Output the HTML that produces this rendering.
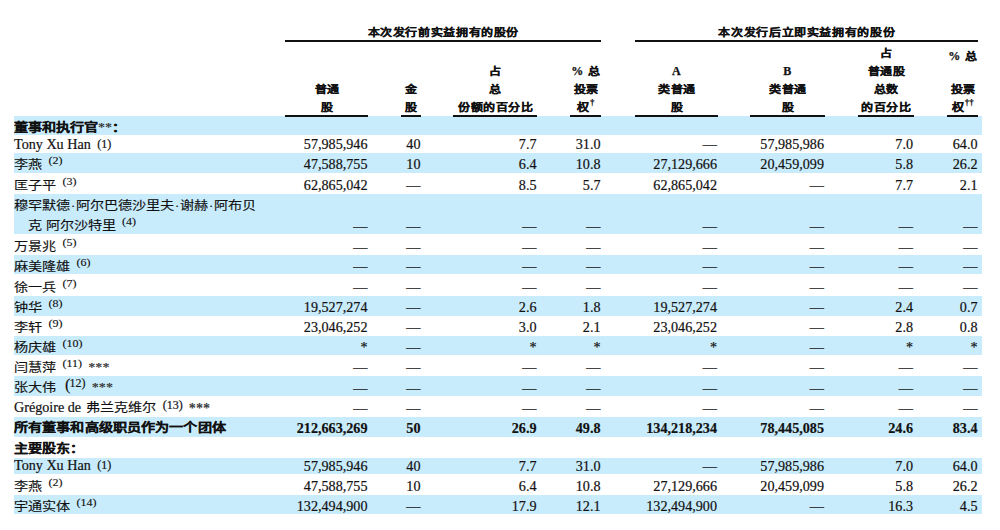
<!DOCTYPE html><html lang="zh-CN"><head><meta charset="utf-8"><style>
*{margin:0;padding:0;box-sizing:border-box}
html,body{width:1000px;height:530px;overflow:hidden;background:#fff}
body{position:relative;font-family:"Liberation Serif",serif;font-size:14.15px;color:#111}
.band{position:absolute;left:14px;width:968px;background:#c9ecfc}
.hl{position:absolute;height:2px;background:#111}
.gh{position:absolute;font-weight:bold;font-size:12px;letter-spacing:0.62px;text-indent:0.62px;line-height:14px;height:14px;text-align:center;white-space:nowrap;-webkit-text-stroke:0.25px #111;transform:scaleY(0.88)}
.ch{position:absolute;font-weight:bold;font-size:12px;letter-spacing:0.5px;text-indent:0.5px;line-height:18px;height:18px;text-align:center;white-space:nowrap;-webkit-text-stroke:0.25px #111}
.hq{display:inline-block;transform:scaleY(0.88)}
.t{position:absolute;white-space:nowrap;line-height:20px;height:20px}
.lab{left:14px;-webkit-text-stroke:0.2px #111}
.sq{transform:scaleY(0.87);transform-origin:0 10px;-webkit-text-stroke:0.15px #111}
.sq .fn,.sq .fn2,.sq .bp{-webkit-text-stroke:0.15px #111}
.ast{-webkit-text-stroke:0 !important}
.sqi{display:inline-block;transform:scaleY(0.87);transform-origin:0 10px;-webkit-text-stroke:0.15px #111;position:relative;top:1px;margin-left:1.5px}
.v{text-align:right;-webkit-text-stroke:0.2px #111}
.fn{position:relative;font-size:12px;margin-left:6.5px}
.fn2{position:relative;font-size:12px}
.sq .fn{display:inline-block;transform:scaleY(1.06)}
.sq .fn2{display:inline-block;transform:scaleY(1.22);transform-origin:0 0}
.ast{color:#3a3a3a;font-weight:bold}
.ast2{margin-left:6.2px}
.sq .ast2{position:relative;top:-1.5px}
.ind{padding-left:14px}
.bp{font-size:16.5px;margin-left:5.5px;display:inline-block;transform:scaleY(1.149);position:relative;top:-3px}
.dot{font-style:normal;margin:0 0.65px}
.dg{font-size:8px;position:relative;top:-6px;margin-left:0.5px}
</style></head><body>
<div class="band" style="top:116.3px;height:19.2px"></div>
<div class="band" style="top:152.9px;height:19.7px"></div>
<div class="band" style="top:193.9px;height:40.1px"></div>
<div class="band" style="top:255.4px;height:19.1px"></div>
<div class="band" style="top:295.9px;height:19.7px"></div>
<div class="band" style="top:336.1px;height:19.2px"></div>
<div class="band" style="top:375.8px;height:20.4px"></div>
<div class="band" style="top:416.8px;height:19.8px"></div>
<div class="band" style="top:457.5px;height:16.6px"></div>
<div class="band" style="top:495.1px;height:19.1px"></div>
<div class="gh" style="left:285px;width:316px;top:25.3px">本次发行前实益拥有的股份</div>
<div class="hl" style="left:285px;width:316px;top:40.3px"></div>
<div class="gh" style="left:635px;width:343px;top:25.3px">本次发行后立即实益拥有的股份</div>
<div class="hl" style="left:635px;width:343px;top:40.3px"></div>
<div class="ch" style="left:285px;width:83px;top:80px"><span class="hq">普通</span></div>
<div class="ch" style="left:285px;width:83px;top:98px"><span class="hq">股</span></div>
<div class="hl" style="left:285px;width:83px;top:115px"></div>
<div class="ch" style="left:401px;width:20px;top:80px"><span class="hq">金</span></div>
<div class="ch" style="left:401px;width:20px;top:98px"><span class="hq">股</span></div>
<div class="hl" style="left:401px;width:20px;top:115px"></div>
<div class="ch" style="left:453px;width:84px;top:61.5px"><span class="hq">占</span></div>
<div class="ch" style="left:453px;width:84px;top:79.5px"><span class="hq">总</span></div>
<div class="ch" style="left:453px;width:84px;top:98px"><span class="hq">份额的百分比</span></div>
<div class="hl" style="left:453px;width:84px;top:115px"></div>
<div class="ch" style="left:570px;width:31px;top:61.5px">% <span class="hq">总</span></div>
<div class="ch" style="left:570px;width:31px;top:79.7px"><span class="hq">投票</span></div>
<div class="ch" style="left:570px;width:31px;top:98px"><span class="hq">权</span><span class="dg">†</span></div>
<div class="hl" style="left:570px;width:31px;top:115px"></div>
<div class="ch" style="left:635px;width:82.5px;top:62.1px">A</div>
<div class="ch" style="left:635px;width:82.5px;top:79.7px"><span class="hq">类普通</span></div>
<div class="ch" style="left:635px;width:82.5px;top:98px"><span class="hq">股</span></div>
<div class="hl" style="left:635px;width:82.5px;top:115px"></div>
<div class="ch" style="left:750px;width:74.5px;top:62.1px">B</div>
<div class="ch" style="left:750px;width:74.5px;top:79.7px"><span class="hq">类普通</span></div>
<div class="ch" style="left:750px;width:74.5px;top:98px"><span class="hq">股</span></div>
<div class="hl" style="left:750px;width:74.5px;top:115px"></div>
<div class="ch" style="left:858px;width:55.5px;top:43.5px"><span class="hq">占</span></div>
<div class="ch" style="left:858px;width:55.5px;top:61.8px"><span class="hq">普通股</span></div>
<div class="ch" style="left:858px;width:55.5px;top:79.8px"><span class="hq">总数</span></div>
<div class="ch" style="left:858px;width:55.5px;top:97.5px"><span class="hq">的百分比</span></div>
<div class="hl" style="left:858px;width:55.5px;top:115px"></div>
<div class="ch" style="left:947px;width:31px;top:47px">% <span class="hq">总</span></div>
<div class="ch" style="left:947px;width:31px;top:80px"><span class="hq">投票</span></div>
<div class="ch" style="left:947px;width:31px;top:98px"><span class="hq">权</span><span class="dg">††</span></div>
<div class="hl" style="left:947px;width:31px;top:115px"></div>
<div class="t lab sq" style="top:117.82px"><b>董事和执行官<span class="ast" style="position:relative;top:-1.3px">**</span>：</b></div>
<div class="t lab" style="top:133.82px">Tony Xu Han<span class="fn" style="top:-1.1px">(1)</span></div>
<div class="t v" style="left:245px;width:122.5px;top:134.22px">57,985,946</div>
<div class="t v" style="left:361px;width:59.5px;top:134.22px">40</div>
<div class="t v" style="left:413px;width:123.5px;top:134.22px">7.7</div>
<div class="t v" style="left:530px;width:70.5px;top:134.22px">31.0</div>
<div class="t v" style="left:595px;width:122.0px;top:134.22px">—</div>
<div class="t v" style="left:710px;width:114.0px;top:134.22px">57,985,986</div>
<div class="t v" style="left:818px;width:95.0px;top:134.22px">7.0</div>
<div class="t v" style="left:907px;width:70.5px;top:134.22px">64.0</div>
<div class="t lab sq" style="top:154.82px">李燕<span class="fn" style="top:-5.8px">(2)</span></div>
<div class="t v" style="left:245px;width:122.5px;top:154.22px">47,588,755</div>
<div class="t v" style="left:361px;width:59.5px;top:154.22px">10</div>
<div class="t v" style="left:413px;width:123.5px;top:154.22px">6.4</div>
<div class="t v" style="left:530px;width:70.5px;top:154.22px">10.8</div>
<div class="t v" style="left:595px;width:122.0px;top:154.22px">27,129,666</div>
<div class="t v" style="left:710px;width:114.0px;top:154.22px">20,459,099</div>
<div class="t v" style="left:818px;width:95.0px;top:154.22px">5.8</div>
<div class="t v" style="left:907px;width:70.5px;top:154.22px">26.2</div>
<div class="t lab sq" style="top:175.62px">匡子平<span class="fn" style="top:-5.8px">(3)</span></div>
<div class="t v" style="left:245px;width:122.5px;top:175.02px">62,865,042</div>
<div class="t v" style="left:361px;width:59.5px;top:175.02px">—</div>
<div class="t v" style="left:413px;width:123.5px;top:175.02px">8.5</div>
<div class="t v" style="left:530px;width:70.5px;top:175.02px">5.7</div>
<div class="t v" style="left:595px;width:122.0px;top:175.02px">62,865,042</div>
<div class="t v" style="left:710px;width:114.0px;top:175.02px">—</div>
<div class="t v" style="left:818px;width:95.0px;top:175.02px">7.7</div>
<div class="t v" style="left:907px;width:70.5px;top:175.02px">2.1</div>
<div class="t lab sq" style="top:195.62px">穆罕默德<i class="dot">·</i>阿尔巴德沙里夫<i class="dot">·</i>谢赫<i class="dot">·</i>阿布贝</div>
<div class="t lab sq" style="top:216.12px"><span class="ind">克 阿尔沙特里<span class="fn" style="top:-5.8px">(4)</span></span></div>
<div class="t v" style="left:245px;width:122.5px;top:215.52px">—</div>
<div class="t v" style="left:361px;width:59.5px;top:215.52px">—</div>
<div class="t v" style="left:413px;width:123.5px;top:215.52px">—</div>
<div class="t v" style="left:530px;width:70.5px;top:215.52px">—</div>
<div class="t v" style="left:595px;width:122.0px;top:215.52px">—</div>
<div class="t v" style="left:710px;width:114.0px;top:215.52px">—</div>
<div class="t v" style="left:818px;width:95.0px;top:215.52px">—</div>
<div class="t v" style="left:907px;width:70.5px;top:215.52px">—</div>
<div class="t lab sq" style="top:237.12px">万景兆<span class="fn" style="top:-5.8px">(5)</span></div>
<div class="t v" style="left:245px;width:122.5px;top:236.52px">—</div>
<div class="t v" style="left:361px;width:59.5px;top:236.52px">—</div>
<div class="t v" style="left:413px;width:123.5px;top:236.52px">—</div>
<div class="t v" style="left:530px;width:70.5px;top:236.52px">—</div>
<div class="t v" style="left:595px;width:122.0px;top:236.52px">—</div>
<div class="t v" style="left:710px;width:114.0px;top:236.52px">—</div>
<div class="t v" style="left:818px;width:95.0px;top:236.52px">—</div>
<div class="t v" style="left:907px;width:70.5px;top:236.52px">—</div>
<div class="t lab sq" style="top:256.82px">麻美隆雄<span class="fn" style="top:-5.8px">(6)</span></div>
<div class="t v" style="left:245px;width:122.5px;top:256.22px">—</div>
<div class="t v" style="left:361px;width:59.5px;top:256.22px">—</div>
<div class="t v" style="left:413px;width:123.5px;top:256.22px">—</div>
<div class="t v" style="left:530px;width:70.5px;top:256.22px">—</div>
<div class="t v" style="left:595px;width:122.0px;top:256.22px">—</div>
<div class="t v" style="left:710px;width:114.0px;top:256.22px">—</div>
<div class="t v" style="left:818px;width:95.0px;top:256.22px">—</div>
<div class="t v" style="left:907px;width:70.5px;top:256.22px">—</div>
<div class="t lab sq" style="top:277.82px">徐一兵<span class="fn" style="top:-5.8px">(7)</span></div>
<div class="t v" style="left:245px;width:122.5px;top:277.22px">—</div>
<div class="t v" style="left:361px;width:59.5px;top:277.22px">—</div>
<div class="t v" style="left:413px;width:123.5px;top:277.22px">—</div>
<div class="t v" style="left:530px;width:70.5px;top:277.22px">—</div>
<div class="t v" style="left:595px;width:122.0px;top:277.22px">—</div>
<div class="t v" style="left:710px;width:114.0px;top:277.22px">—</div>
<div class="t v" style="left:818px;width:95.0px;top:277.22px">—</div>
<div class="t v" style="left:907px;width:70.5px;top:277.22px">—</div>
<div class="t lab sq" style="top:297.62px">钟华<span class="fn" style="top:-5.8px">(8)</span></div>
<div class="t v" style="left:245px;width:122.5px;top:297.02px">19,527,274</div>
<div class="t v" style="left:361px;width:59.5px;top:297.02px">—</div>
<div class="t v" style="left:413px;width:123.5px;top:297.02px">2.6</div>
<div class="t v" style="left:530px;width:70.5px;top:297.02px">1.8</div>
<div class="t v" style="left:595px;width:122.0px;top:297.02px">19,527,274</div>
<div class="t v" style="left:710px;width:114.0px;top:297.02px">—</div>
<div class="t v" style="left:818px;width:95.0px;top:297.02px">2.4</div>
<div class="t v" style="left:907px;width:70.5px;top:297.02px">0.7</div>
<div class="t lab sq" style="top:318.02px">李轩<span class="fn" style="top:-5.8px">(9)</span></div>
<div class="t v" style="left:245px;width:122.5px;top:317.42px">23,046,252</div>
<div class="t v" style="left:361px;width:59.5px;top:317.42px">—</div>
<div class="t v" style="left:413px;width:123.5px;top:317.42px">3.0</div>
<div class="t v" style="left:530px;width:70.5px;top:317.42px">2.1</div>
<div class="t v" style="left:595px;width:122.0px;top:317.42px">23,046,252</div>
<div class="t v" style="left:710px;width:114.0px;top:317.42px">—</div>
<div class="t v" style="left:818px;width:95.0px;top:317.42px">2.8</div>
<div class="t v" style="left:907px;width:70.5px;top:317.42px">0.8</div>
<div class="t lab sq" style="top:337.72px">杨庆雄<span class="fn" style="top:-5.8px">(10)</span></div>
<div class="t v" style="left:245px;width:122.5px;top:337.12px">*</div>
<div class="t v" style="left:361px;width:59.5px;top:337.12px">—</div>
<div class="t v" style="left:413px;width:123.5px;top:337.12px">*</div>
<div class="t v" style="left:530px;width:70.5px;top:337.12px">*</div>
<div class="t v" style="left:595px;width:122.0px;top:337.12px">*</div>
<div class="t v" style="left:710px;width:114.0px;top:337.12px">—</div>
<div class="t v" style="left:818px;width:95.0px;top:337.12px">*</div>
<div class="t v" style="left:907px;width:70.5px;top:337.12px">*</div>
<div class="t lab sq" style="top:358.02px">闫慧萍<span class="fn" style="top:-5.8px">(11)</span><span class="ast ast2">***</span></div>
<div class="t v" style="left:245px;width:122.5px;top:357.42px">—</div>
<div class="t v" style="left:361px;width:59.5px;top:357.42px">—</div>
<div class="t v" style="left:413px;width:123.5px;top:357.42px">—</div>
<div class="t v" style="left:530px;width:70.5px;top:357.42px">—</div>
<div class="t v" style="left:595px;width:122.0px;top:357.42px">—</div>
<div class="t v" style="left:710px;width:114.0px;top:357.42px">—</div>
<div class="t v" style="left:818px;width:95.0px;top:357.42px">—</div>
<div class="t v" style="left:907px;width:70.5px;top:357.42px">—</div>
<div class="t lab sq" style="top:378.42px">张大伟 <span class="bp">(</span><span class="fn2" style="top:-8.8px;margin-left:-1px">12)</span><span class="ast ast2">***</span></div>
<div class="t v" style="left:245px;width:122.5px;top:377.82px">—</div>
<div class="t v" style="left:361px;width:59.5px;top:377.82px">—</div>
<div class="t v" style="left:413px;width:123.5px;top:377.82px">—</div>
<div class="t v" style="left:530px;width:70.5px;top:377.82px">—</div>
<div class="t v" style="left:595px;width:122.0px;top:377.82px">—</div>
<div class="t v" style="left:710px;width:114.0px;top:377.82px">—</div>
<div class="t v" style="left:818px;width:95.0px;top:377.82px">—</div>
<div class="t v" style="left:907px;width:70.5px;top:377.82px">—</div>
<div class="t lab" style="top:397.12px">Grégoire de <span class="sqi">弗兰克维尔</span><span class="fn" style="top:-3.3px">(13)</span><span class="ast ast2" style="position:relative;top:1px">***</span></div>
<div class="t v" style="left:245px;width:122.5px;top:397.62px">—</div>
<div class="t v" style="left:361px;width:59.5px;top:397.62px">—</div>
<div class="t v" style="left:413px;width:123.5px;top:397.62px">—</div>
<div class="t v" style="left:530px;width:70.5px;top:397.62px">—</div>
<div class="t v" style="left:595px;width:122.0px;top:397.62px">—</div>
<div class="t v" style="left:710px;width:114.0px;top:397.62px">—</div>
<div class="t v" style="left:818px;width:95.0px;top:397.62px">—</div>
<div class="t v" style="left:907px;width:70.5px;top:397.62px">—</div>
<div class="t lab sq" style="top:418.22px"><b style="letter-spacing:0.12px">所有董事和高级职员作为一个团体</b></div>
<div class="t v" style="left:245px;width:122.5px;top:418.12px;font-weight:bold">212,663,269</div>
<div class="t v" style="left:361px;width:59.5px;top:418.12px;font-weight:bold">50</div>
<div class="t v" style="left:413px;width:123.5px;top:418.12px;font-weight:bold">26.9</div>
<div class="t v" style="left:530px;width:70.5px;top:418.12px;font-weight:bold">49.8</div>
<div class="t v" style="left:595px;width:122.0px;top:418.12px;font-weight:bold">134,218,234</div>
<div class="t v" style="left:710px;width:114.0px;top:418.12px;font-weight:bold">78,445,085</div>
<div class="t v" style="left:818px;width:95.0px;top:418.12px;font-weight:bold">24.6</div>
<div class="t v" style="left:907px;width:70.5px;top:418.12px;font-weight:bold">83.4</div>
<div class="t lab sq" style="top:438.92px"><b>主要股东：</b></div>
<div class="t lab" style="top:455.12px">Tony Xu Han<span class="fn" style="top:-1.1px">(1)</span></div>
<div class="t v" style="left:245px;width:122.5px;top:455.52px">57,985,946</div>
<div class="t v" style="left:361px;width:59.5px;top:455.52px">40</div>
<div class="t v" style="left:413px;width:123.5px;top:455.52px">7.7</div>
<div class="t v" style="left:530px;width:70.5px;top:455.52px">31.0</div>
<div class="t v" style="left:595px;width:122.0px;top:455.52px">—</div>
<div class="t v" style="left:710px;width:114.0px;top:455.52px">57,985,986</div>
<div class="t v" style="left:818px;width:95.0px;top:455.52px">7.0</div>
<div class="t v" style="left:907px;width:70.5px;top:455.52px">64.0</div>
<div class="t lab sq" style="top:476.82px">李燕<span class="fn" style="top:-5.8px">(2)</span></div>
<div class="t v" style="left:245px;width:122.5px;top:476.22px">47,588,755</div>
<div class="t v" style="left:361px;width:59.5px;top:476.22px">10</div>
<div class="t v" style="left:413px;width:123.5px;top:476.22px">6.4</div>
<div class="t v" style="left:530px;width:70.5px;top:476.22px">10.8</div>
<div class="t v" style="left:595px;width:122.0px;top:476.22px">27,129,666</div>
<div class="t v" style="left:710px;width:114.0px;top:476.22px">20,459,099</div>
<div class="t v" style="left:818px;width:95.0px;top:476.22px">5.8</div>
<div class="t v" style="left:907px;width:70.5px;top:476.22px">26.2</div>
<div class="t lab sq" style="top:496.82px">宇通实体<span class="fn" style="top:-5.8px">(14)</span></div>
<div class="t v" style="left:245px;width:122.5px;top:496.22px">132,494,900</div>
<div class="t v" style="left:361px;width:59.5px;top:496.22px">—</div>
<div class="t v" style="left:413px;width:123.5px;top:496.22px">17.9</div>
<div class="t v" style="left:530px;width:70.5px;top:496.22px">12.1</div>
<div class="t v" style="left:595px;width:122.0px;top:496.22px">132,494,900</div>
<div class="t v" style="left:710px;width:114.0px;top:496.22px">—</div>
<div class="t v" style="left:818px;width:95.0px;top:496.22px">16.3</div>
<div class="t v" style="left:907px;width:70.5px;top:496.22px">4.5</div>
</body></html>
